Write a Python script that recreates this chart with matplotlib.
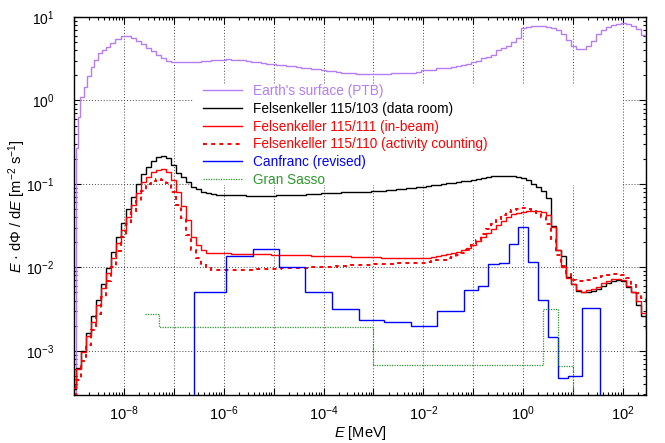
import numpy as np
import matplotlib
matplotlib.use("Agg")
import matplotlib.pyplot as plt
from matplotlib.ticker import FixedLocator, FuncFormatter, LogLocator, NullFormatter
from matplotlib.patches import Rectangle

plt.rcParams['font.family'] = ['Liberation Sans', 'DejaVu Sans']
plt.rcParams['mathtext.fontset'] = 'custom'
plt.rcParams['mathtext.rm'] = 'Liberation Sans'
plt.rcParams['mathtext.it'] = 'Liberation Sans:italic'

# ---- binning: 10 bins per decade (log10 of lower edge of first bin, in MeV) ----
first_edge_exp = -9.05
n_bins = 116
edges = 10 ** (first_edge_exp + 0.1 * np.arange(n_bins + 1))

# Felsenkeller 115/103 (data room)
felsenkeller_103 = [
    3.5e-4, 6.2e-4, 1.0e-3, 1.63e-3, 2.58e-3, 4.1e-3, 6.3e-3, 9.8e-3, 0.0151, 0.0230,
    0.0338, 0.0498, 0.0705, 0.100, 0.131, 0.161, 0.190, 0.212, 0.218, 0.203,
    0.169, 0.136, 0.120, 0.104, 0.093, 0.086, 0.081, 0.077, 0.075, 0.0741,
    0.0736, 0.0733, 0.0730, 0.0728, 0.0726, 0.0725, 0.0724, 0.0723, 0.0723, 0.0723,
    0.0724, 0.0726, 0.0729, 0.0732, 0.0736, 0.0740, 0.0745, 0.0750, 0.0756, 0.0762,
    0.0768, 0.0775, 0.0780, 0.0785, 0.0790, 0.0795, 0.0800, 0.0803, 0.0806, 0.0809,
    0.0812, 0.0822, 0.0833, 0.0844, 0.0855, 0.0866, 0.0877, 0.0888, 0.0899, 0.0911,
    0.0929, 0.0946, 0.0963, 0.0980, 0.0998, 0.1016, 0.1034, 0.1052, 0.1070, 0.1090,
    0.1117, 0.1145, 0.1170, 0.1200, 0.1230, 0.1255, 0.1260, 0.1250, 0.1230, 0.1200,
    0.1170, 0.110, 0.100, 0.093, 0.083, 0.067, 0.0316, 0.0162, 0.0135, 0.0076,
    0.0063, 0.0052, 0.0050, 0.0051, 0.0052, 0.0055, 0.0060, 0.0065, 0.0069, 0.0071,
    0.0068, 0.0058, 0.0050, 0.0035, 0.0026, 0.0018,
]

# Felsenkeller 115/111 (in-beam)
felsenkeller_111 = [
    3.55e-4, 6.0e-4, 9.8e-4, 1.51e-3, 2.24e-3, 3.49e-3, 5.64e-3, 8.5e-3, 0.0129, 0.0195,
    0.0281, 0.0406, 0.0561, 0.0773, 0.104, 0.122, 0.138, 0.147, 0.150, 0.138,
    0.110, 0.081, 0.0537, 0.0372, 0.0234, 0.0186, 0.0162, 0.0148, 0.0148, 0.0148,
    0.0147, 0.0147, 0.0146, 0.0146, 0.0145, 0.0145, 0.0144, 0.0144, 0.0143, 0.0143,
    0.0142, 0.0142, 0.0141, 0.0141, 0.0140, 0.0140, 0.0139, 0.0139, 0.0138, 0.0138,
    0.0137, 0.0137, 0.0136, 0.0136, 0.0135, 0.0135, 0.0134, 0.0134, 0.0133, 0.0133,
    0.0132, 0.0132, 0.0131, 0.0131, 0.0130, 0.0130, 0.0129, 0.0129, 0.0129, 0.0129,
    0.0129, 0.0130, 0.0132, 0.0135, 0.0139, 0.0143, 0.0148, 0.0154, 0.0160, 0.0170,
    0.0186, 0.0204, 0.0230, 0.0256, 0.0286, 0.0323, 0.0364, 0.0399, 0.0437, 0.0454,
    0.0458, 0.0467, 0.0467, 0.0467, 0.0466, 0.0426, 0.0303, 0.0162, 0.0102, 0.0074,
    0.0063, 0.0054, 0.0051, 0.0054, 0.0055, 0.0058, 0.0065, 0.0068, 0.0072, 0.0072,
    0.0070, 0.0060, 0.0051, 0.0039, 0.0028, 0.00195,
]

# Felsenkeller 115/110 (activity counting)
felsenkeller_110 = [
    2.5e-4, 4.5e-4, 7.6e-4, 1.17e-3, 1.78e-3, 2.75e-3, 4.4e-3, 6.8e-3, 0.0102, 0.0155,
    0.0229, 0.0331, 0.0468, 0.063, 0.083, 0.100, 0.108, 0.1135, 0.112, 0.1035,
    0.079, 0.056, 0.039, 0.0245, 0.0162, 0.0129, 0.0107, 0.0098, 0.0093, 0.0093,
    0.0093, 0.0093, 0.0093, 0.0093, 0.0094, 0.0094, 0.0094, 0.0095, 0.0095, 0.0095,
    0.0096, 0.0096, 0.0097, 0.0097, 0.0098, 0.0098, 0.0099, 0.0099, 0.0100, 0.0100,
    0.0101, 0.0102, 0.0102, 0.0103, 0.0104, 0.0105, 0.0106, 0.0106, 0.0107, 0.0108,
    0.0109, 0.0110, 0.0110, 0.0111, 0.0111, 0.0112, 0.0112, 0.0113, 0.0113, 0.0114,
    0.0114, 0.0116, 0.0118, 0.0121, 0.0124, 0.0128, 0.0133, 0.0140, 0.0150, 0.0163,
    0.0185, 0.0215, 0.0252, 0.0290, 0.0333, 0.0380, 0.0425, 0.0465, 0.0490, 0.0505,
    0.0510, 0.0500, 0.0480, 0.0445, 0.0400, 0.0330, 0.0215, 0.0140, 0.0105, 0.0085,
    0.0071, 0.0069, 0.0069, 0.0071, 0.0074, 0.0076, 0.0079, 0.0081, 0.0084, 0.0084,
    0.0081, 0.0074, 0.0062, 0.0049, 0.0043, 0.0037,
]

# Earth's surface (PTB): finer bins below 10 meV, then the regular grid
ptb_edge_exp = [-8.96, -8.92, -8.87, -8.80, -8.73, -8.66, -8.60, -8.52, -8.44,
                -8.36, -8.28, -8.18] + list(np.round(-8.05 + 0.1 * np.arange(106), 2))
earth_surface = [
    0.27, 0.64, 1.11, 1.46, 1.96, 2.54, 3.05, 3.67, 4.03, 4.40, 4.84, 5.40,
    5.85, 5.90, 5.60, 5.20, 4.75, 4.30, 3.90, 3.50, 3.20, 3.00,
    2.92, 2.90, 2.89, 2.89, 2.90, 2.92, 2.95, 2.98, 3.02, 3.06,
    3.09, 3.10, 3.09, 3.06, 3.02, 2.97, 2.92, 2.86, 2.81, 2.76,
    2.72, 2.68, 2.64, 2.60, 2.56, 2.52, 2.48, 2.44, 2.40, 2.36,
    2.32, 2.28, 2.24, 2.20, 2.16, 2.14, 2.12, 2.10, 2.09, 2.08,
    2.08, 2.08, 2.09, 2.10, 2.11, 2.12, 2.14, 2.15, 2.16, 2.17,
    2.30, 2.32, 2.34, 2.45, 2.47, 2.48, 2.50, 2.62, 2.66, 2.70,
    2.92, 3.00, 3.26, 3.30, 3.51, 4.03, 4.25, 4.53, 5.06, 5.56,
    7.30, 7.60, 7.70, 7.75, 7.70, 7.55, 7.30, 6.90, 6.20, 5.30,
    4.50, 4.15, 4.15, 4.50, 5.20, 6.20, 7.00, 7.60, 8.00, 8.30,
    8.40, 8.30, 7.90, 7.20, 6.10,
]

# Canfranc (revised)
canfranc_edge_exp = [-6.59, -5.96, -5.42, -4.89, -4.37, -3.83, -3.30, -2.78, -2.25,
                     -1.72, -1.19, -0.90, -0.70, -0.48, -0.28, -0.10, 0.10, 0.30,
                     0.50, 0.70, 0.90, 1.17, 1.54]
canfranc = [5.1e-3, 0.0137, 0.0168, 0.0100, 5.1e-3, 3.2e-3, 2.35e-3, 2.2e-3, 2.0e-3,
            3.0e-3, 5.3e-3, 6.0e-3, 0.0109, 0.0112, 0.019, 0.0308, 0.0115, 4.1e-3,
            1.46e-3, 4.7e-4, 5.0e-4, 3.3e-3]

# Gran Sasso
gran_sasso_edge_exp = [-7.58, -7.29, -3.0, 0.39, 0.69, 1.0, 1.3]
gran_sasso = [2.75e-3, 1.92e-3, 6.8e-4, 3.2e-3, 6.6e-4, 1e-5]

labels = ["Earth's surface (PTB)", "Felsenkeller 115/103 (data room)",
          "Felsenkeller 115/111 (in-beam)", "Felsenkeller 115/110 (activity counting)",
          "Canfranc (revised)", "Gran Sasso"]

c_ptb = '#b47cf5'
c_black = '#000000'
c_red = '#ff0000'
c_blue = '#0000ff'
c_green = '#2a9a2a'

fig = plt.figure(figsize=(6.65, 4.43), dpi=100)
ax = fig.add_axes([74 / 665, 1 - 395 / 443, 572 / 665, 378 / 443])
ax.set_xscale('log')
ax.set_yscale('log')

ax.stairs(earth_surface, 10 ** np.array(ptb_edge_exp), baseline=1e-6,
          color=c_ptb, lw=1.0, label=labels[0], zorder=3)
ax.stairs(felsenkeller_103, edges, baseline=None, color=c_black, lw=1.0,
          label=labels[1], zorder=3)
ax.stairs(felsenkeller_111, edges, baseline=None, color=c_red, lw=1.0,
          label=labels[2], zorder=3)
ax.stairs(felsenkeller_110, edges, baseline=None, color=c_red, lw=1.4,
          linestyle=(0, (2, 2.2)), label=labels[3], zorder=3)
ax.stairs(canfranc, 10 ** np.array(canfranc_edge_exp), baseline=1e-6, color=c_blue,
          lw=1.0, label=labels[4], zorder=3)
ax.stairs(gran_sasso, 10 ** np.array(gran_sasso_edge_exp), baseline=None,
          color=c_green, lw=0.9, linestyle=(0, (1, 1)), label=labels[5], zorder=3)

ax.set_xlim(1e-9, 10 ** 2.46)
ax.set_ylim(10 ** -3.53, 10)

# ticks: inward on all sides, labels on every other decade along x
xmaj = [10.0 ** e for e in range(-9, 3)]
ax.xaxis.set_major_locator(FixedLocator(xmaj))
ax.xaxis.set_major_formatter(FuncFormatter(
    lambda v, p: r'$\mathdefault{10^{%d}}$' % round(np.log10(v))
    if round(np.log10(v)) % 2 == 0 else ''))
ax.xaxis.set_minor_locator(LogLocator(base=10, subs=np.arange(2, 10), numticks=30))
ax.xaxis.set_minor_formatter(NullFormatter())
ax.yaxis.set_major_locator(FixedLocator([10.0 ** e for e in range(-3, 2)]))
ax.yaxis.set_major_formatter(FuncFormatter(
    lambda v, p: r'$\mathdefault{10^{%d}}$' % round(np.log10(v))))
ax.yaxis.set_minor_locator(LogLocator(base=10, subs=np.arange(2, 10), numticks=30))
ax.yaxis.set_minor_formatter(NullFormatter())
ax.tick_params(which='both', direction='in', top=True, right=True, width=0.8)
ax.tick_params(which='major', length=5)
ax.tick_params(which='minor', length=2.5)
ax.tick_params(axis='x', which='major', labelsize=10.5, pad=7)
ax.tick_params(axis='y', which='major', labelsize=10, pad=14)
for s in ax.spines.values():
    s.set_linewidth(1.0)

ax.set_axisbelow(True)
ax.grid(True, which='major', color='#444444', lw=0.7, linestyle=(0, (1, 2)))

# opaque area behind the key
ax.add_patch(Rectangle(((193 - 74) / 572, (395 - 185) / 378), (623 - 193) / 572,
                       100 / 378, transform=ax.transAxes, facecolor='white',
                       edgecolor='none', zorder=1))

leg = ax.legend(loc='upper left', bbox_to_anchor=(203 / 665, 1 - 84 / 443),
                bbox_transform=fig.transFigure, frameon=False, fontsize=9.8,
                handlelength=2.9, handletextpad=0.75, labelspacing=0.28,
                borderpad=0, borderaxespad=0)
for txt, col in zip(leg.get_texts(), [c_ptb, c_black, c_red, c_red, c_blue, c_green]):
    txt.set_color(col)
leg.set_zorder(5)

ax.set_xlabel(r'$E$ [MeV]', fontsize=10.5)
ax.xaxis.set_label_coords(0.5, -0.078)
ax.set_ylabel(r'$E$ · dΦ / d$E$ [m$^{-2}$ s$^{-1}$]', fontsize=10.5)
ax.yaxis.set_label_coords(-0.081, 0.5)

fig.savefig('out.png', dpi=100)
